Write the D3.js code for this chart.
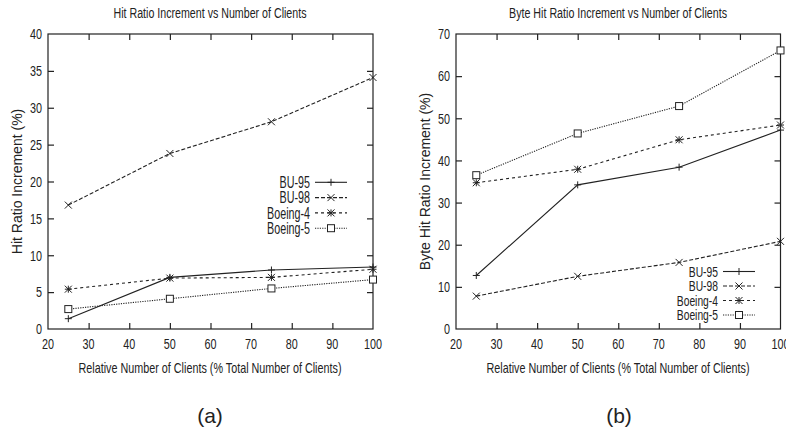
<!DOCTYPE html>
<html><head><meta charset="utf-8">
<script src="https://cdn.jsdelivr.net/npm/d3@7"></script>
<style>
body{margin:0;background:#fff;}
svg{display:block;}
text{fill:#222;}
</style></head>
<body>
<svg id="c" width="786" height="430"></svg>
<script>
const xValues = [25, 50, 75, 100];
const seriesNames = ["BU-95", "BU-98", "Boeing-4", "Boeing-5"];
// (a) Hit ratio increment
const hitBU95 = [1.4, 7.0, 8.0, 8.4];
const hitBU98 = [16.8, 23.8, 28.1, 34.1];
const hitBoeing4 = [5.4, 6.9, 7.0, 8.1];
const hitBoeing5 = [2.7, 4.1, 5.5, 6.7];
// (b) Byte hit ratio increment
const byteBU95 = [12.7, 34.2, 38.4, 47.2];
const byteBU98 = [7.8, 12.5, 15.8, 20.8];
const byteBoeing4 = [34.7, 37.9, 44.9, 48.4];
const byteBoeing5 = [36.5, 46.4, 52.9, 66.1];
const xTicks = [20, 30, 40, 50, 60, 70, 80, 90, 100];
const hitTicks = [0, 5, 10, 15, 20, 25, 30, 35, 40];
const byteTicks = [0, 10, 20, 30, 40, 50, 60, 70];

const styles = [
  {dash: null, marker: "plus"},
  {dash: "4,2", marker: "cross"},
  {dash: "3,3", marker: "star"},
  {dash: "1.2,1.2", marker: "square"}
];
const ink = "#222";
const svg = d3.select("#c");
const sans = "'Liberation Sans',Arial,Helvetica,sans-serif";

function ntext(g, x, y, str, size, anchor, sx) {
  const t = g.append("text")
    .attr("x", x).attr("y", y)
    .attr("text-anchor", anchor).attr("font-family", sans).attr("font-size", size)
    .text(str);
  const w = t.node().getComputedTextLength();
  t.attr("textLength", (w * sx).toFixed(2)).attr("lengthAdjust", "spacingAndGlyphs");
  return t;
}

function marker(g, type, x, y) {
  const s = 3.5;
  const m = g.append("g").attr("transform", `translate(${x},${y})`)
    .attr("stroke", ink).attr("stroke-width", 1).attr("fill", "none");
  if (type === "plus" || type === "star") {
    m.append("path").attr("d", `M${-s},0H${s}M0,${-s}V${s}`);
  }
  if (type === "cross" || type === "star") {
    m.append("path").attr("d", `M${-s},${-s}L${s},${s}M${-s},${s}L${s},${-s}`);
  }
  if (type === "square") {
    m.append("rect").attr("x", -s).attr("y", -s).attr("width", 2*s).attr("height", 2*s).attr("fill", "#fff");
  }
}

function chart(opt) {
  const g = svg.append("g");
  const x = d3.scaleLinear().domain([20, 100]).range([opt.x0, opt.x1]);
  const y = d3.scaleLinear().domain([0, opt.ymax]).range([opt.y1, opt.y0]);
  const tl = 6;
  g.append("rect").attr("x", opt.x0).attr("y", opt.y0).attr("width", opt.x1-opt.x0).attr("height", opt.y1-opt.y0)
    .attr("fill", "none").attr("stroke", ink).attr("stroke-width", 1.2);
  const xb = d3.axisBottom(x).tickValues(opt.xTicks).tickSize(-tl).tickSizeOuter(0).tickFormat("");
  const xt = d3.axisTop(x).tickValues(opt.xTicks).tickSize(-tl).tickSizeOuter(0).tickFormat("");
  const yl = d3.axisLeft(y).tickValues(opt.yTicks).tickSize(-tl).tickSizeOuter(0).tickFormat("");
  const yr = d3.axisRight(y).tickValues(opt.yTicks).tickSize(-tl).tickSizeOuter(0).tickFormat("");
  const axes = [
    g.append("g").attr("transform", `translate(0,${opt.y1})`).call(xb),
    g.append("g").attr("transform", `translate(0,${opt.y0})`).call(xt),
    g.append("g").attr("transform", `translate(${opt.x0},0)`).call(yl),
    g.append("g").attr("transform", `translate(${opt.x1},0)`).call(yr)
  ];
  axes.forEach(a => {
    a.select(".domain").remove();
    a.selectAll(".tick line").attr("stroke", ink).attr("stroke-width", 1.2);
  });
  axes[0].selectAll(".tick").filter(d => d === 20 || d === 100).select("line").remove();
  axes[1].selectAll(".tick").filter(d => d === 20 || d === 100).select("line").remove();
  axes[2].selectAll(".tick").filter(d => d === 0 || d === opt.ymax).select("line").remove();
  axes[3].selectAll(".tick").filter(d => d === 0 || d === opt.ymax).select("line").remove();
  opt.xTicks.forEach(t => ntext(g, x(t), opt.y1 + 20, t, 15, "middle", 0.72));
  opt.yTicks.forEach(t => ntext(g, opt.x0 - 6, y(t) + 5.3, t, 15, "end", 0.72));

  opt.series.forEach((vals, i) => {
    const line = d3.line().x((d, j) => x(xValues[j])).y(d => y(d));
    g.append("path").datum(vals).attr("d", line).attr("fill", "none")
      .attr("stroke", ink).attr("stroke-width", 1.1)
      .attr("stroke-dasharray", styles[i].dash);
  });
  opt.series.forEach((vals, i) => {
    vals.forEach((v, j) => marker(g, styles[i].marker, x(xValues[j]), y(v)));
  });
  seriesNames.forEach((nm, i) => {
    const ly = opt.legY + i * opt.legDy;
    ntext(g, opt.legX, ly + opt.legFont * 0.35, nm, opt.legFont, "end", opt.legSx);
    g.append("line").attr("x1", opt.legX + 5).attr("x2", opt.legX + 37).attr("y1", ly).attr("y2", ly)
      .attr("stroke", ink).attr("stroke-width", 1.1).attr("stroke-dasharray", styles[i].dash);
    marker(g, styles[i].marker, opt.legX + 21, ly);
  });
  g.append("text").attr("x", opt.titleX).attr("y", 17.5).attr("text-anchor", "middle")
    .attr("font-family", sans).attr("font-size", 14).attr("textLength", opt.titleLen)
    .attr("lengthAdjust", "spacingAndGlyphs").text(opt.title);
  g.append("text").attr("x", opt.xtX).attr("y", 373).attr("text-anchor", "middle")
    .attr("font-family", sans).attr("font-size", 15).attr("textLength", 263)
    .attr("lengthAdjust", "spacingAndGlyphs").text("Relative Number of Clients (% Total Number of Clients)");
  g.append("text").attr("transform", `translate(${opt.ytX},${(opt.y0 + opt.y1) / 2}) rotate(-90)`)
    .attr("text-anchor", "middle").attr("font-family", sans).attr("font-size", 14)
    .text(opt.ytitle);
  g.append("text").attr("x", opt.capX).attr("y", 423).attr("text-anchor", "middle")
    .attr("font-family", sans).attr("font-size", 21).text(opt.cap);
}

chart({
  x0: 48, x1: 373, y0: 34, y1: 329, ymax: 40,
  xTicks: xTicks, yTicks: hitTicks,
  series: [hitBU95, hitBU98, hitBoeing4, hitBoeing5],
  legX: 310, legY: 182.3, legDy: 15.3, legFont: 16, legSx: 0.67,
  title: "Hit Ratio Increment vs Number of Clients", titleX: 210, titleLen: 193,
  ytitle: "Hit Ratio Increment (%)", ytX: 22, xtX: 210,
  cap: "(a)", capX: 210
});
chart({
  x0: 456, x1: 780.5, y0: 34, y1: 329, ymax: 70,
  xTicks: xTicks, yTicks: byteTicks,
  series: [byteBU95, byteBU98, byteBoeing4, byteBoeing5],
  legX: 718, legY: 271.5, legDy: 14.5, legFont: 14.5, legSx: 0.71,
  title: "Byte Hit Ratio Increment vs Number of Clients", titleX: 618, titleLen: 218,
  ytitle: "Byte Hit Ratio Increment (%)", ytX: 430, xtX: 618,
  cap: "(b)", capX: 619
});
</script>
</body></html>
